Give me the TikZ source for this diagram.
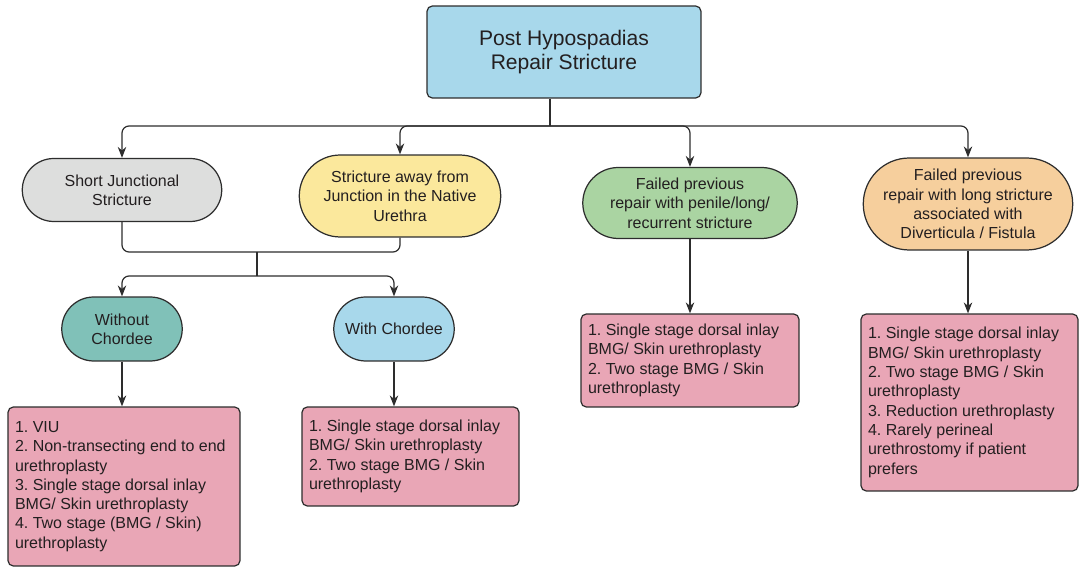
\documentclass[tikz,border=0pt]{standalone}
\usepackage{fontspec}
\setmainfont{Liberation Sans}
\usetikzlibrary{arrows.meta,shapes.misc}

\definecolor{lineclr}{RGB}{45,45,45}
\definecolor{txtclr}{RGB}{35,31,32}
\definecolor{skyblue}{RGB}{168,216,235}
\definecolor{greyfill}{RGB}{221,222,221}
\definecolor{yellowfill}{RGB}{251,232,156}
\definecolor{greenfill}{RGB}{170,212,162}
\definecolor{orangefill}{RGB}{246,207,157}
\definecolor{tealfill}{RGB}{128,193,184}
\definecolor{pinkfill}{RGB}{233,166,182}

\newcommand{\boxfont}{\fontsize{9.1}{11}\selectfont\frenchspacing\hyphenpenalty=10000\relax}

\begin{document}
\begin{tikzpicture}[x=0.02cm,y=-0.02cm]
            \tikzset{oval/.style={rounded rectangle, draw=lineclr, line width=.7pt, align=center, text=txtclr,
                    font=\boxfont, inner sep=1pt},
                     listbox/.style={rectangle, rounded corners=3pt, draw=lineclr, line width=.7pt, fill=pinkfill,
                    align=flush left, text=txtclr, font=\boxfont, inner xsep=.14cm},
                     link/.style={draw=lineclr, line width=.7pt, rounded corners=4pt},
                     arr/.style={link, -{Stealth[length=2.2mm, width=1.7mm]}}}

            \useasboundingbox (0,0) rectangle (1080,567);

            % top box
            \node[rectangle, rounded corners=3pt, draw=lineclr, line width=.7pt, fill=skyblue, text=txtclr,
                align=center, minimum width=5.48cm, minimum height=1.84cm, font=\fontsize{12}{13.8}\selectfont]
                (title) at (564,52) {Post Hypospadias\\Repair Stricture};

            % second row
            \node[oval, fill=greyfill, minimum width=4.06cm, minimum height=1.26cm] (short) at (122,190) {Short Junctional\\Stricture};
            \node[oval, fill=yellowfill, minimum width=4.1cm, minimum height=1.64cm] (away) at (400,196) {Stricture away from\\Junction in the Native\\Urethra};
            \node[oval, fill=greenfill, minimum width=4.36cm, minimum height=1.42cm] (penile) at (690,203) {Failed previous\\repair with penile/long/\\recurrent stricture};
            \node[oval, fill=orangefill, minimum width=4.26cm, minimum height=1.84cm] (longstr) at (968,204) {Failed previous\\repair with long stricture\\associated with\\Diverticula / Fistula};

            % third row
            \node[oval, fill=tealfill, minimum width=2.48cm, minimum height=1.28cm] (without) at (122,329) {Without\\Chordee};
            \node[oval, fill=skyblue, minimum width=2.48cm, minimum height=1.28cm] (withc) at (394,329) {With Chordee};

            % treatment lists
            \node[listbox, text width=4.36cm, minimum width=4.64cm, minimum height=3.18cm] (listA) at (124,486.5)
                {1. VIU\\2. Non-transecting end to end\\urethroplasty\\3. Single stage dorsal inlay\\BMG/ Skin urethroplasty\\4. Two stage (BMG / Skin)\\urethroplasty};
            \node[listbox, text width=4.06cm, minimum width=4.34cm, minimum height=1.98cm] (listB) at (410.5,456.5)
                {1. Single stage dorsal inlay\\BMG/ Skin urethroplasty\\2. Two stage BMG / Skin\\urethroplasty};
            \node[listbox, text width=4.08cm, minimum width=4.36cm, minimum height=1.86cm] (listC) at (690,360.5)
                {1. Single stage dorsal inlay\\BMG/ Skin urethroplasty\\2. Two stage BMG / Skin\\urethroplasty};
            \node[listbox, text width=4.06cm, minimum width=4.34cm, minimum height=3.54cm] (listD) at (969.5,402.5)
                {1. Single stage dorsal inlay\\BMG/ Skin urethroplasty\\2. Two stage BMG / Skin\\urethroplasty\\3. Reduction urethroplasty\\4. Rarely perineal\\urethrostomy if patient\\prefers};

            % connectors
            \coordinate (split) at (550,126);
            \coordinate (merge) at (257,252);
            \coordinate (split2) at (257,276);

            \draw[link] (title.south -| split) -- (split);
            \draw[arr] (split) -| (short.north);
            \draw[arr] (split) -| (away.north);
            \draw[arr] (split) -| (penile.north);
            \draw[arr] (split) -| (longstr.north);

            \draw[link] (short.south) |- (merge) -| (away.south);
            \draw[link] (merge) -- (split2);
            \draw[arr] (split2) -| (without.north);
            \draw[arr] (split2) -| (withc.north);

            \draw[arr] (without.south) -- (without.south |- listA.north);
            \draw[arr] (withc.south) -- (withc.south |- listB.north);
            \draw[arr] (penile.south) -- (penile.south |- listC.north);
            \draw[arr] (longstr.south) -- (longstr.south |- listD.north);
\end{tikzpicture}
\end{document}
